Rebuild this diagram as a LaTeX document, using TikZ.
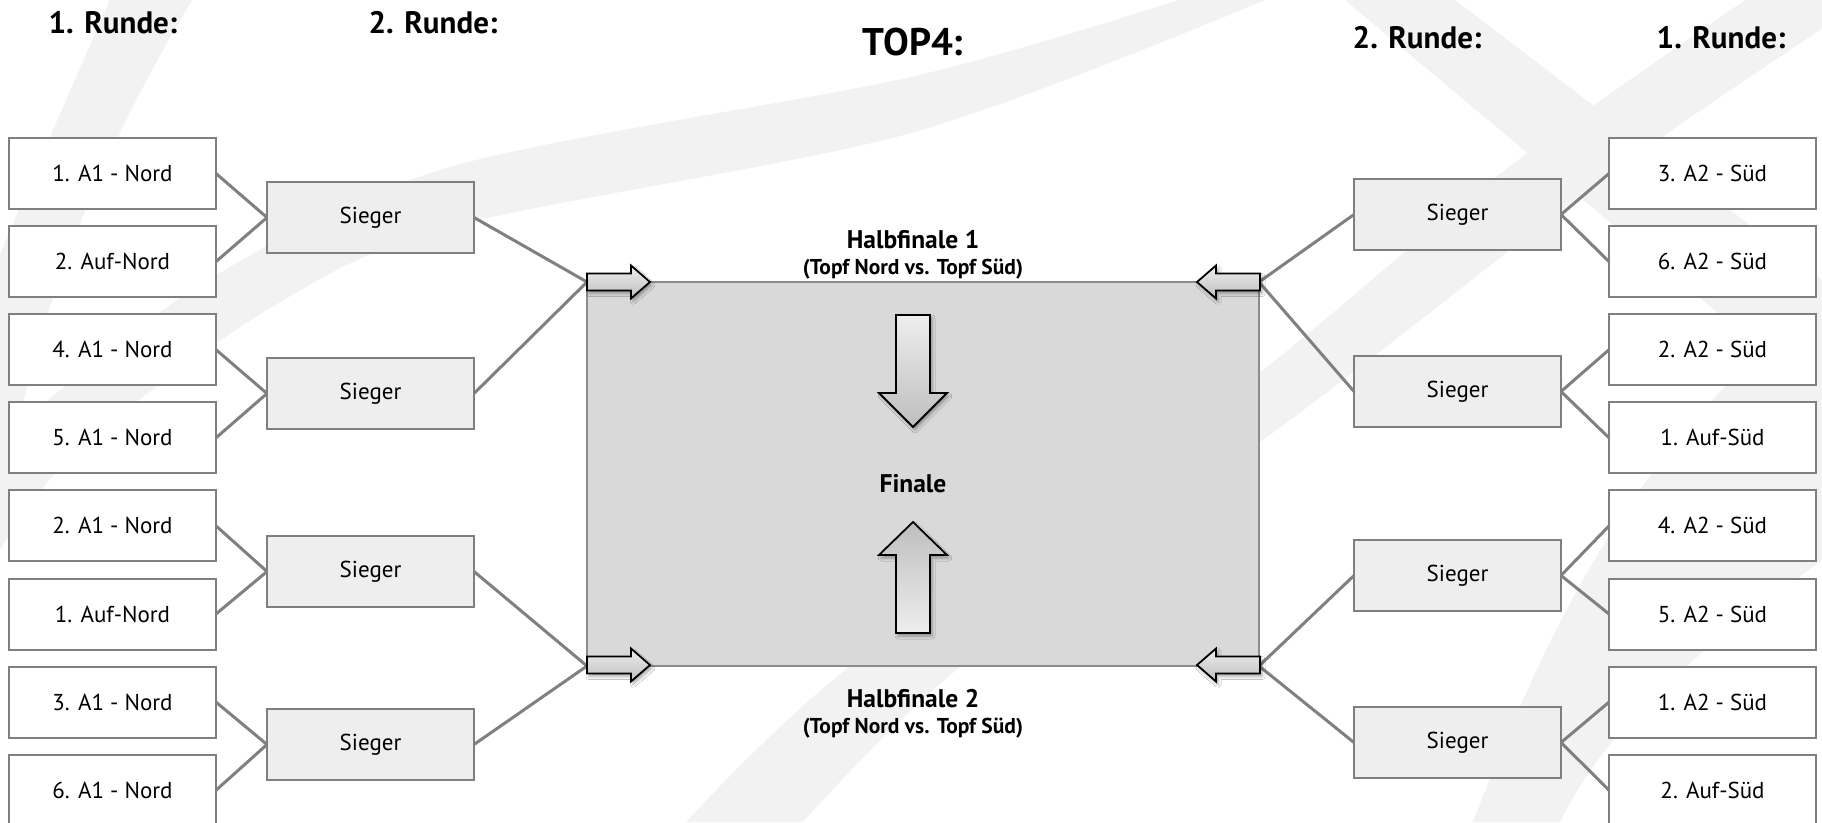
\documentclass[tikz,border=0pt]{standalone}
\usepackage{fontspec}
\setmainfont{PT Sans}
\usetikzlibrary{shadows.blur}
\definecolor{wm}{HTML}{F2F2F2}
\definecolor{boxline}{HTML}{7F7F7F}
\definecolor{siegerfill}{HTML}{EEEEEE}
\definecolor{finalfill}{HTML}{D9D9D9}
\definecolor{finalline}{HTML}{8C8C8C}
\definecolor{connline}{HTML}{808080}
\definecolor{arrowlight}{HTML}{EEEEEE}
\definecolor{arrowdark}{HTML}{BEBEBE}
\begin{document}
\begin{tikzpicture}[x=1pt,y=-1pt,
  teambox/.style={draw=boxline, line width=2pt, fill=white, minimum width=207pt, minimum height=71pt,
    inner sep=0pt, outer sep=0pt, font=\fontsize{23}{26}\selectfont},
  siegerbox/.style={teambox, fill=siegerfill},
  finalbox/.style={draw=finalline, line width=2pt, fill=finalfill, minimum width=672pt, minimum height=384pt,
    inner sep=0pt, outer sep=0pt},
  conn/.style={draw=connline, line width=3pt},
  title/.style={font=\fontsize{31}{34}\selectfont\bfseries, inner sep=0pt, anchor=base},
  bigtitle/.style={font=\fontsize{38.5}{42}\selectfont\bfseries, inner sep=0pt, anchor=base},
  hftitle/.style={font=\fontsize{25.5}{28}\selectfont\bfseries, inner sep=0pt, anchor=base},
  hfsub/.style={font=\fontsize{21.5}{24}\selectfont\bfseries, inner sep=0pt, anchor=base},
  fatarrow/.style={draw=black, line width=1.8pt,
    blur shadow={shadow xshift=2pt, shadow yshift=-3pt, shadow blur radius=3pt, shadow opacity=35}},
]
\useasboundingbox (0,0) rectangle (1822,822);
\fill[white] (0,0) rectangle (1822,822);

% watermark
\begin{scope}
\clip (0,0) rectangle (1822,822);
\fill[wm] (110,0) .. controls (75,80) and (35,170) .. (0,255) -- (0,520) .. controls (30,330) and (90,170) .. (192,0) -- cycle;
\fill[wm] plot[smooth] coordinates {(1179,0) (911,77) (450,167) (200,285) (0,440)}
  -- plot[smooth] coordinates {(0,550) (77,450) (267,310) (450,227) (911,133) (1265,0)} -- cycle;
\fill[wm] (1345,0) -- (1455,0) -- (1822,280) -- (1822,400) -- cycle;
\fill[wm] plot[smooth] coordinates {(686,822) (849,667) (1225,400) (1505,170) (1760,-10)}
  -- plot[smooth] coordinates {(1880,-10) (1615,170) (1330,390) (960,667) (803,822)} -- cycle;
\fill[wm] (1473,822) .. controls (1550,620) and (1640,440) .. (1822,300) -- (1822,560) .. controls (1700,650) and (1610,720) .. (1560,822) -- cycle;
\end{scope}

% titles
\node[title] (t1l) at (113,33) {1. Runde:};
\node[title] (t2l) at (433,33) {2. Runde:};
\node[bigtitle] (ttop) at (913,55) {TOP4:};
\node[title] (t2r) at (1417,48) {2. Runde:};
\node[title] (t1r) at (1721,48) {1. Runde:};

% final
\node[finalbox] (fin) at (923,474) {};

% left first round
\node[teambox] (l1) at (112.5,173.5) {1. A1 - Nord};
\node[teambox] (l2) at (112.5,261.6) {2. Auf-Nord};
\node[teambox] (l3) at (112.5,349.7) {4. A1 - Nord};
\node[teambox] (l4) at (112.5,437.8) {5. A1 - Nord};
\node[teambox] (l5) at (112.5,525.9) {2. A1 - Nord};
\node[teambox] (l6) at (112.5,614.0) {1. Auf-Nord};
\node[teambox] (l7) at (112.5,702.1) {3. A1 - Nord};
\node[teambox] (l8) at (112.5,790.2) {6. A1 - Nord};
% right first round
\node[teambox] (r1) at (1712.5,173.5) {3. A2 - Süd};
\node[teambox] (r2) at (1712.5,261.6) {6. A2 - Süd};
\node[teambox] (r3) at (1712.5,349.7) {2. A2 - Süd};
\node[teambox] (r4) at (1712.5,437.8) {1. Auf-Süd};
\node[teambox] (r5) at (1712.5,525.9) {4. A2 - Süd};
\node[teambox] (r6) at (1712.5,614.0) {5. A2 - Süd};
\node[teambox] (r7) at (1712.5,702.1) {1. A2 - Süd};
\node[teambox] (r8) at (1712.5,790.2) {2. Auf-Süd};
% second round
\node[siegerbox] (ls1) at (370.5,217.5) {Sieger};
\node[siegerbox] (ls2) at (370.5,393.5) {Sieger};
\node[siegerbox] (ls3) at (370.5,571.5) {Sieger};
\node[siegerbox] (ls4) at (370.5,744.5) {Sieger};
\node[siegerbox] (rs1) at (1457.5,214.5) {Sieger};
\node[siegerbox] (rs2) at (1457.5,391.5) {Sieger};
\node[siegerbox] (rs3) at (1457.5,575.5) {Sieger};
\node[siegerbox] (rs4) at (1457.5,742.5) {Sieger};

% connectors
\draw[conn] (l1.east) -- (ls1.west);
\draw[conn] (l2.east) -- (ls1.west);
\draw[conn] (l3.east) -- (ls2.west);
\draw[conn] (l4.east) -- (ls2.west);
\draw[conn] (l5.east) -- (ls3.west);
\draw[conn] (l6.east) -- (ls3.west);
\draw[conn] (l7.east) -- (ls4.west);
\draw[conn] (l8.east) -- (ls4.west);
\draw[conn] (r1.west) -- (rs1.east);
\draw[conn] (r2.west) -- (rs1.east);
\draw[conn] (r3.west) -- (rs2.east);
\draw[conn] (r4.west) -- (rs2.east);
\draw[conn] (r5.west) -- (rs3.east);
\draw[conn] (r6.west) -- (rs3.east);
\draw[conn] (r7.west) -- (rs4.east);
\draw[conn] (r8.west) -- (rs4.east);
\draw[conn] (ls1.east) -- (fin.north west);
\draw[conn] (ls2.east) -- (fin.north west);
\draw[conn] (ls3.east) -- (fin.south west);
\draw[conn] (ls4.east) -- (fin.south west);
\draw[conn] (rs1.west) -- (fin.north east);
\draw[conn] (rs2.west) -- (fin.north east);
\draw[conn] (rs3.west) -- (fin.south east);
\draw[conn] (rs4.west) -- (fin.south east);

% block arrows
\path[fatarrow, top color=arrowlight, bottom color=arrowdark]
  (587,273.5) -- (631,273.5) -- (631,265.5) -- (650,282) -- (631,298.5) -- (631,290.5) -- (587,290.5) -- cycle;
\path[fatarrow, top color=arrowlight, bottom color=arrowdark]
  (587,656.5) -- (631,656.5) -- (631,648.5) -- (650,665) -- (631,681.5) -- (631,673.5) -- (587,673.5) -- cycle;
\path[fatarrow, top color=arrowlight, bottom color=arrowdark]
  (1260,273.5) -- (1216,273.5) -- (1216,265.5) -- (1197,282) -- (1216,298.5) -- (1216,290.5) -- (1260,290.5) -- cycle;
\path[fatarrow, top color=arrowlight, bottom color=arrowdark]
  (1260,656.5) -- (1216,656.5) -- (1216,648.5) -- (1197,665) -- (1216,681.5) -- (1216,673.5) -- (1260,673.5) -- cycle;
\path[fatarrow, top color=arrowlight, bottom color=arrowdark]
  (896,315) -- (930,315) -- (930,393) -- (947,393) -- (913,427) -- (879,393) -- (896,393) -- cycle;
\path[fatarrow, top color=arrowdark, bottom color=arrowlight]
  (896,633) -- (930,633) -- (930,555) -- (947,555) -- (913,522) -- (879,555) -- (896,555) -- cycle;

% centre texts
\node[hftitle] (hf1) at (913,248) {Halbfinale 1};
\node[hfsub] (hf1s) at (913,274) {(Topf Nord vs. Topf Süd)};
\node[hftitle] (finl) at (913,492) {Finale};
\node[hftitle] (hf2) at (913,707) {Halbfinale 2};
\node[hfsub] (hf2s) at (913,733) {(Topf Nord vs. Topf Süd)};
\end{tikzpicture}
\end{document}
